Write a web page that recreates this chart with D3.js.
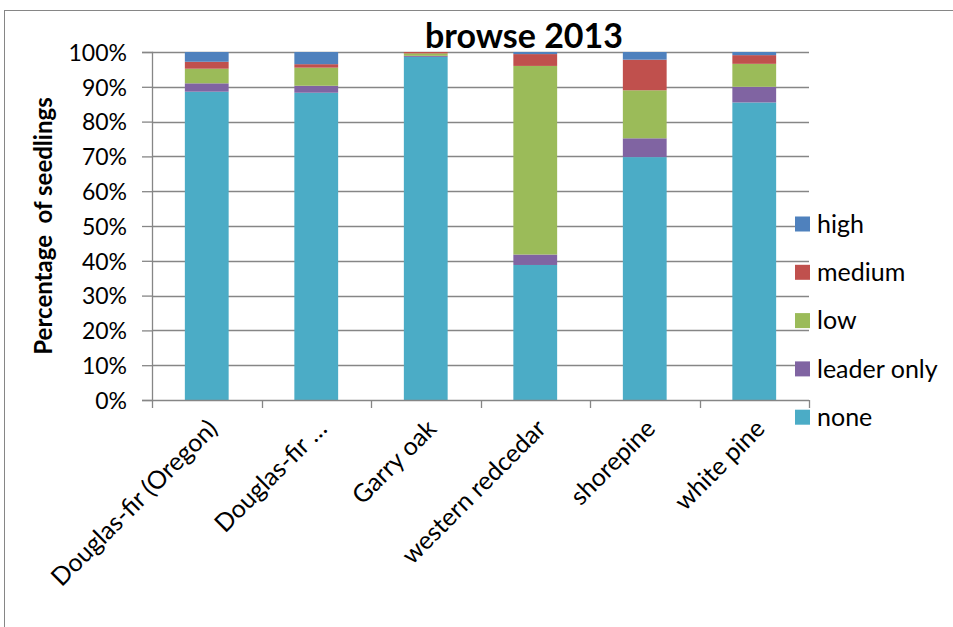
<!DOCTYPE html>
<html>
<head>
<meta charset="utf-8">
<script src="https://cdn.jsdelivr.net/npm/d3@7"></script>
<style>
body { margin: 0; background: #fff; }
text { font-family: Lato, "Open Sans", sans-serif; fill: #000; }
</style>
</head>
<body>
<script>
// species on the x axis
var species = ["Douglas-fir (Oregon)", "Douglas-fir …", "Garry oak", "western redcedar", "shorepine", "white pine"];

// browse classes, bottom to top
var classes = ["none", "leader only", "low", "medium", "high"];
var colors = ["#4BACC6", "#8064A2", "#9BBB59", "#C0504D", "#4F81BD"];

// percent of seedlings per class
var none       = [88.6, 88.3, 98.6, 38.8, 69.8, 85.5];
var leaderOnly = [2.4, 2.0, 0.3, 3.0, 5.4, 4.5];
var low        = [4.2, 5.2, 0.7, 54.2, 13.8, 6.6];
var medium     = [2.0, 1.0, 0.4, 3.4, 8.8, 2.5];
var high       = [2.8, 3.5, 0.0, 0.6, 2.2, 0.9];

var yTicks = [0, 10, 20, 30, 40, 50, 60, 70, 80, 90, 100];

var width = 953, height = 627;
var plot = {left: 152, right: 809, top: 52, bottom: 400};

var svg = d3.select("body").append("svg")
    .attr("width", width)
    .attr("height", height);

// outer chart border
svg.append("rect")
    .attr("x", 4.5).attr("y", 10.5)
    .attr("width", 960).attr("height", 640)
    .attr("fill", "none")
    .attr("stroke", "#868686")
    .attr("stroke-width", 1);

var x = d3.scaleBand()
    .domain(species)
    .range([plot.left, plot.right])
    .paddingInner(0.6)
    .paddingOuter(0.3);

var y = d3.scaleLinear()
    .domain([0, 100])
    .range([plot.bottom, plot.top]);

// gridlines
svg.append("g")
    .selectAll("line")
    .data(yTicks.slice(1))
    .enter()
    .append("line")
    .attr("x1", plot.left)
    .attr("x2", plot.right)
    .attr("y1", function (d) { return Math.round(y(d)) + 0.5; })
    .attr("y2", function (d) { return Math.round(y(d)) + 0.5; })
    .attr("stroke", "#868686")
    .attr("stroke-width", 1.3);

// stack the series
var table = species.map(function (s, i) {
    return {species: s, "none": none[i], "leader only": leaderOnly[i],
            "low": low[i], "medium": medium[i], "high": high[i]};
});
var stacked = d3.stack().keys(classes)(table);

svg.append("g")
    .selectAll("g")
    .data(stacked)
    .enter()
    .append("g")
    .attr("fill", function (d, i) { return colors[i]; })
    .selectAll("rect")
    .data(function (d) { return d; })
    .enter()
    .append("rect")
    .attr("x", function (d) { return x(d.data.species); })
    .attr("y", function (d) { return y(d[1]); })
    .attr("width", x.bandwidth())
    .attr("height", function (d) { return y(d[0]) - y(d[1]); });

// y axis
var yAxis = svg.append("g")
    .attr("transform", "translate(" + plot.left + ",0)")
    .call(d3.axisLeft(y).tickValues(yTicks).tickSize(10)
        .tickFormat(function (d) { return d + "%"; }));
yAxis.select(".domain").attr("stroke", "#868686").attr("stroke-width", 1.3);
yAxis.selectAll(".tick line").attr("stroke", "#868686").attr("stroke-width", 1.3);
yAxis.selectAll(".tick text")
    .attr("x", -25)
    .attr("dy", "0.36em")
    .style("font-size", "23px")
    .style("font-family", "Lato, sans-serif");

// x axis (ticks between categories)
var bounds = d3.range(species.length + 1).map(function (i) {
    return plot.left + i * (plot.right - plot.left) / species.length;
});
var xAxis = svg.append("g");
xAxis.append("line")
    .attr("x1", plot.left).attr("x2", plot.right)
    .attr("y1", plot.bottom + 0.5).attr("y2", plot.bottom + 0.5)
    .attr("stroke", "#868686").attr("stroke-width", 1.3);
xAxis.selectAll("line.tk")
    .data(bounds)
    .enter()
    .append("line")
    .attr("class", "tk")
    .attr("x1", function (d) { return Math.round(d) + 0.5; })
    .attr("x2", function (d) { return Math.round(d) + 0.5; })
    .attr("y1", plot.bottom)
    .attr("y2", plot.bottom + 8)
    .attr("stroke", "#868686").attr("stroke-width", 1.3);

xAxis.selectAll("text")
    .data(species)
    .enter()
    .append("text")
    .attr("transform", function (d) {
        var cx = x(d) + x.bandwidth() / 2 + 6;
        return "translate(" + cx + "," + (plot.bottom + 24) + ") rotate(-45)";
    })
    .attr("text-anchor", "end")
    .attr("dy", "0.35em")
    .style("font-size", "25px")
    .text(function (d) { return d; });

// y axis title
svg.append("text")
    .attr("transform", "translate(52,226) rotate(-90)")
    .attr("text-anchor", "middle")
    .style("font-size", "24px")
    .style("font-weight", "bold")
    .style("white-space", "pre")
    .text("Percentage  of seedlings");

// chart title
svg.append("text")
    .attr("x", 524)
    .attr("y", 48)
    .attr("text-anchor", "middle")
    .style("font-size", "34px")
    .style("font-weight", "bold")
    .text("browse 2013");

// legend, top entry is "high"
var legendOrder = classes.slice().reverse();
var legend = svg.append("g")
    .selectAll("g")
    .data(legendOrder)
    .enter()
    .append("g")
    .attr("transform", function (d, i) { return "translate(795," + (224 + i * 48.3) + ")"; });
legend.append("rect")
    .attr("x", 0).attr("y", -7.5)
    .attr("width", 15).attr("height", 15)
    .attr("fill", function (d) { return colors[classes.indexOf(d)]; });
legend.append("text")
    .attr("x", 22)
    .attr("dy", "0.35em")
    .style("font-size", "25px")
    .text(function (d) { return d; });
</script>
</body>
</html>
